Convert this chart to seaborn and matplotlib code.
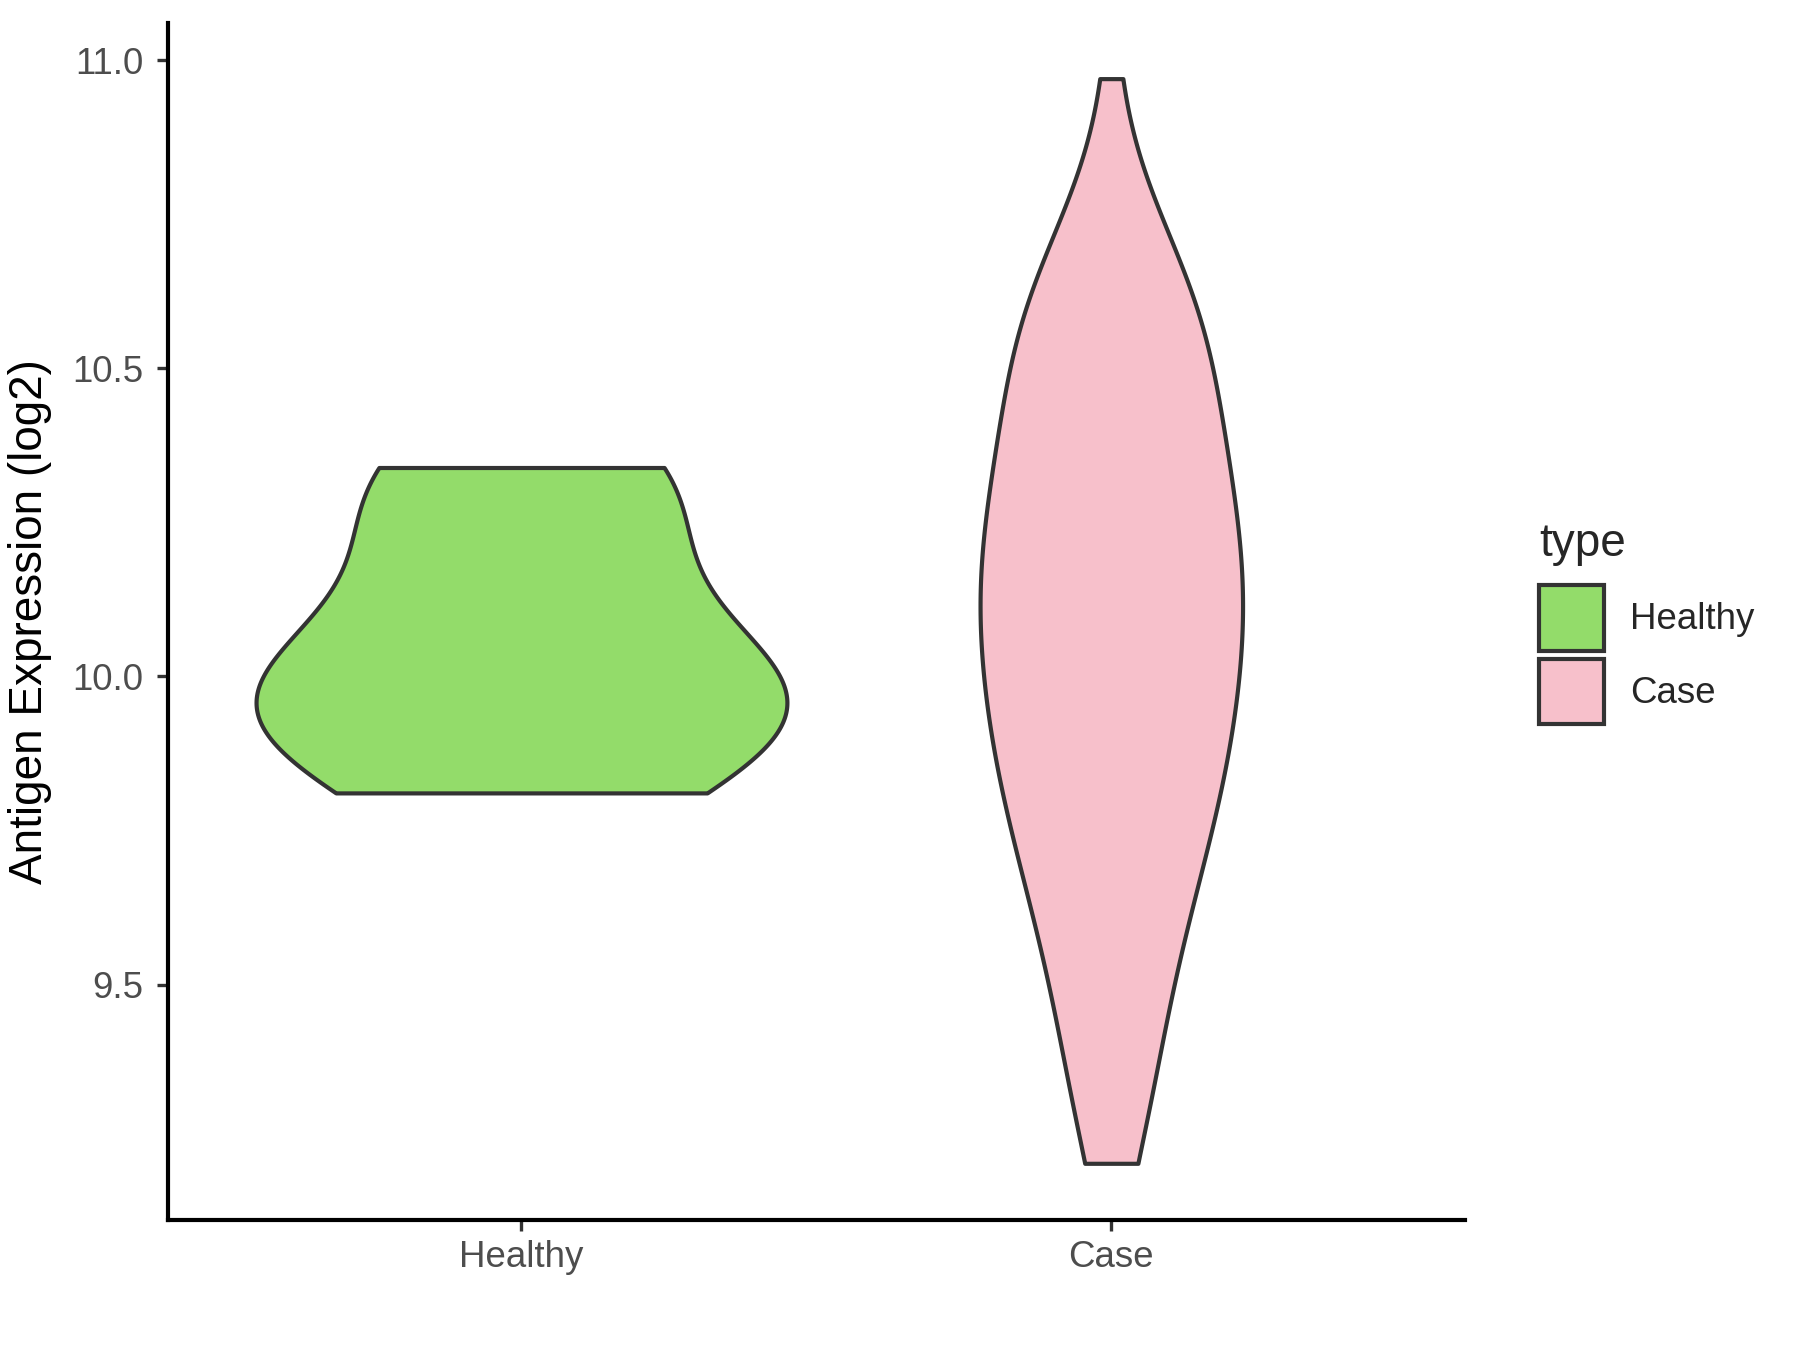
import numpy as np
import pandas as pd
import seaborn as sns
import matplotlib.pyplot as plt
from matplotlib.patches import Patch

# Antigen expression (log2) per sample
healthy_expr = [9.811, 9.95, 9.97, 10.0, 10.26, 10.339]

# Case samples: expression levels and how many samples sit at each level
case_levels = [9.21, 9.3, 9.4, 9.5, 9.6, 9.7, 9.8, 9.9, 10.0, 10.1,
               10.2, 10.3, 10.4, 10.5, 10.6, 10.68, 10.8, 10.97]
case_counts = [2, 3, 3, 4, 5, 6, 8, 8, 9, 9,
               10, 8, 7, 7, 7, 5, 1, 1]

groups = ['Healthy', 'Case']
colors = ['#93DC6A', '#F7C0CB']
yticks = [9.5, 10.0, 10.5, 11.0]

df = pd.DataFrame({
    'type': ['Healthy'] * len(healthy_expr) + ['Case'] * sum(case_counts),
    'expr': list(healthy_expr) + list(np.repeat(case_levels, case_counts)),
})

sns.set_style('white')
plt.rcParams['font.family'] = ['Liberation Sans', 'DejaVu Sans']

fig = plt.figure(figsize=(6, 4.5), dpi=300)
ax = fig.add_axes([0.0931, 0.0963, 0.7209, 0.887])

sns.violinplot(data=df, x='type', y='expr', hue='type', order=groups, hue_order=groups,
               palette=colors, saturation=1, cut=0, width=0.9, inner=None,
               common_norm=True, gridsize=400, linewidth=1.0, linecolor='#333333',
               legend=False, ax=ax)

# - axes, ggplot classic look
ax.set_xlim(-0.6, 1.6)
ax.set_ylim(9.118, 11.061)
ax.set_yticks(yticks)
ax.set_yticklabels(['{:.1f}'.format(t) for t in yticks])
ax.set_xlabel('')
ax.set_ylabel('Antigen Expression (log2)', fontsize=11, color='black', labelpad=5)
for side in ['top', 'right']:
    ax.spines[side].set_visible(False)
for side in ['left', 'bottom']:
    ax.spines[side].set_color('black')
    ax.spines[side].set_linewidth(1.0)
ax.tick_params(axis='both', length=2.75, width=0.8, color='#333333',
               labelcolor='#4D4D4D', labelsize=8.8, left=True, bottom=True)
ax.tick_params(axis='y', pad=3)
ax.tick_params(axis='x', pad=2)

# - legend on the right, square keys
handles = [Patch(facecolor=c, edgecolor='#333333', linewidth=1.0) for c in colors]
leg = fig.legend(handles, groups, title='type', loc='upper left', bbox_to_anchor=(0.855, 0.613),
                 frameon=False, fontsize=8.8, title_fontsize=11, handlelength=1.78, handleheight=2.37,
                 labelspacing=0.22, handletextpad=0.7, borderpad=0, borderaxespad=0, alignment='left')
leg._legend_box.sep = 4.5

fig.savefig('out.png', dpi=300)
plt.close('all')
